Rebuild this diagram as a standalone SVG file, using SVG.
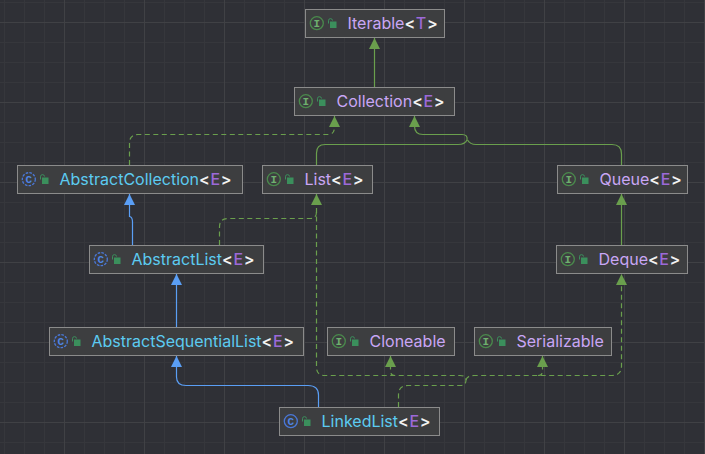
<svg xmlns="http://www.w3.org/2000/svg" width="705" height="454" viewBox="0 0 705 454">
<style>
.box{fill:#3d3e40;stroke:#8b8b8b;stroke-width:1}
.t{font-family:Inter,"Noto Sans",sans-serif;font-size:16px}
.if{fill:#c9a6f5}.cl{fill:#5ccbf1}
.g{fill:#f2f2f2;font-weight:600;letter-spacing:.6px}.e{fill:#9c69d8;font-weight:500;letter-spacing:.6px}
.c{fill:none;stroke-width:1.2}
.gn{stroke:#6a9f4d}.bl{stroke:#5a9ef5}.d{stroke-dasharray:5 3.5}
.mi{stroke:#36373c;stroke-width:1;fill:none}.ma{stroke:#404145;stroke-width:1;fill:none}
.ic{font-family:"Liberation Mono",monospace;font-size:11px;font-weight:700;text-anchor:middle}
</style>
<defs>
<marker id="ag" markerUnits="userSpaceOnUse" markerWidth="12" markerHeight="12" refX="11" refY="6" orient="auto"><path d="M0 .5L11 6L0 11.500Z" fill="#6a9f4d"/></marker>
<marker id="ab" markerUnits="userSpaceOnUse" markerWidth="12" markerHeight="12" refX="11" refY="6" orient="auto"><path d="M0 .5L11 6L0 11.500Z" fill="#5a9ef5"/></marker>
<g id="lock"><path d="M23 14v-2.700a2 2 0 0 1 4-.3" fill="none" stroke="#3b8f5c" stroke-width="1"/><rect x="24.500" y="12" width="6.500" height="6.500" fill="#3b8f5c"/></g>
<g id="iI"><circle cx="11.300" cy="13.700" r="6.500" fill="none" stroke="#4a8a4c" stroke-width="1.300"/><text class="ic" x="11.300" y="17.300" fill="#6fb06f">I</text><use href="#lock"/></g>
<g id="iC"><circle cx="11.300" cy="13.700" r="6.500" fill="none" stroke="#4a78d8" stroke-width="1.300"/><text class="ic" x="11.300" y="17.300" fill="#4f86e8">C</text><use href="#lock"/></g>
<g id="iA"><circle cx="11.300" cy="13.700" r="6.500" fill="none" stroke="#4a78d8" stroke-width="1.300" stroke-dasharray="2.600 1.200"/><text class="ic" x="11.300" y="17.300" fill="#4f86e8">C</text><use href="#lock"/></g>
</defs>
<rect width="705" height="454" fill="#2f3036"/>
<path class="mi" d="M4.500 0V454M24.500 0V454M44.500 0V454M84.500 0V454M104.500 0V454M124.500 0V454M164.500 0V454M184.500 0V454M204.500 0V454M244.500 0V454M264.500 0V454M284.500 0V454M324.500 0V454M344.500 0V454M364.500 0V454M404.500 0V454M424.500 0V454M444.500 0V454M484.500 0V454M504.500 0V454M524.500 0V454M564.500 0V454M584.500 0V454M604.500 0V454M644.500 0V454M664.500 0V454M684.500 0V454M0 2.500H705M0 42.500H705M0 62.500H705M0 82.500H705M0 122.500H705M0 142.500H705M0 162.500H705M0 202.500H705M0 222.500H705M0 242.500H705M0 282.500H705M0 302.500H705M0 322.500H705M0 362.500H705M0 382.500H705M0 402.500H705M0 442.500H705"/>
<path class="ma" d="M64.500 0V454M144.500 0V454M224.500 0V454M304.500 0V454M384.500 0V454M464.500 0V454M544.500 0V454M624.500 0V454M704.500 0V454M0 22.500H705M0 102.500H705M0 182.500H705M0 262.500H705M0 342.500H705M0 422.500H705"/>
<g id="connectors">
<path class="c gn" marker-end="url(#ag)" d="M374.500 87V38"/>
<path class="c gn d" marker-end="url(#ag)" d="M129.500 165V143Q129.500 134.500 138 134.500H328Q334.500 134.500 334.500 127V116"/>
<path class="c gn" marker-end="url(#ag)" d="M316.500 165V153Q316.500 144.500 325 144.500H458Q465 144.500 467 140Q468 134.500 462 134.500H423Q414.500 134.500 414.500 126V116"/>
<path class="c gn" d="M621.500 165V154Q621.500 144.500 612 144.500H476Q470 144.500 467.500 140"/>
<path class="c gn" marker-end="url(#ag)" d="M621.500 245V194"/>
<path class="c bl" marker-end="url(#ab)" d="M132.500 245V222Q132.500 217 129.500 216.500V194"/>
<path class="c gn d" d="M219.500 245V227Q219.500 218.500 228 218.500H310Q316.500 218.500 316.500 212"/>
<path class="c bl" marker-end="url(#ab)" d="M176.500 327V274"/>
<path class="c bl" marker-end="url(#ab)" d="M318.500 407V395Q318.500 385.500 308 385.500H186Q176.500 385.500 176.500 377V356"/>
<path class="c gn d" marker-end="url(#ag)" d="M398.500 407V395Q398.500 385.500 408 385.500H460Q466 385.500 466 380Q466 375.500 460 375.500H325Q316.500 375.500 316.500 367V194"/>
<path class="c gn d" marker-end="url(#ag)" d="M466 380Q467 375.500 474 375.500H612Q621.500 375.500 621.500 366V274"/>
<path class="c gn d" marker-end="url(#ag)" d="M395 375.500Q390.500 375.500 390.500 371V356"/>
<path class="c gn d" marker-end="url(#ag)" d="M538 375.500Q542.500 375.500 542.500 371V356"/>
</g>
<g id="iterable" transform="translate(305.500 9.500)"><rect class="box" width="139" height="28"/><use href="#iI"/><text class="t if" x="42" y="19.500">Iterable<tspan class="g">&lt;</tspan><tspan class="e">T</tspan><tspan class="g">&gt;</tspan></text></g>
<g id="collection" transform="translate(294.500 87.500)"><rect class="box" width="160" height="28"/><use href="#iI"/><text class="t if" x="42" y="19.500">Collection<tspan class="g">&lt;</tspan><tspan class="e">E</tspan><tspan class="g">&gt;</tspan></text></g>
<g id="abstractcollection" transform="translate(17.500 165.500)"><rect class="box" width="225" height="28"/><use href="#iA"/><text class="t cl" x="42" y="19.500">AbstractCollection<tspan class="g">&lt;</tspan><tspan class="e">E</tspan><tspan class="g">&gt;</tspan></text></g>
<g id="list" transform="translate(262.500 165.500)"><rect class="box" width="110" height="28"/><use href="#iI"/><text class="t if" x="42" y="19.500">List<tspan class="g">&lt;</tspan><tspan class="e">E</tspan><tspan class="g">&gt;</tspan></text></g>
<g id="queue" transform="translate(557.500 165.500)"><rect class="box" width="130" height="28"/><use href="#iI"/><text class="t if" x="42" y="19.500">Queue<tspan class="g">&lt;</tspan><tspan class="e">E</tspan><tspan class="g">&gt;</tspan></text></g>
<g id="abstractlist" transform="translate(89.500 245.500)"><rect class="box" width="174" height="28"/><use href="#iA"/><text class="t cl" x="42" y="19.500">AbstractList<tspan class="g">&lt;</tspan><tspan class="e">E</tspan><tspan class="g">&gt;</tspan></text></g>
<g id="deque" transform="translate(556.500 245.500)"><rect class="box" width="131" height="28"/><use href="#iI"/><text class="t if" x="42" y="19.500">Deque<tspan class="g">&lt;</tspan><tspan class="e">E</tspan><tspan class="g">&gt;</tspan></text></g>
<g id="abstractsequentiallist" transform="translate(49.500 327.500)"><rect class="box" width="254" height="28"/><use href="#iA"/><text class="t cl" x="42" y="19.500">AbstractSequentialList<tspan class="g">&lt;</tspan><tspan class="e">E</tspan><tspan class="g">&gt;</tspan></text></g>
<g id="cloneable" transform="translate(327.500 327.500)"><rect class="box" width="127" height="28"/><use href="#iI"/><text class="t if" x="42" y="19.500">Cloneable</text></g>
<g id="serializable" transform="translate(474.500 327.500)"><rect class="box" width="137" height="28"/><use href="#iI"/><text class="t if" x="42" y="19.500">Serializable</text></g>
<g id="linkedlist" transform="translate(279.500 407.500)"><rect class="box" width="160" height="28"/><use href="#iC"/><text class="t cl" x="42" y="19.500">LinkedList<tspan class="g">&lt;</tspan><tspan class="e">E</tspan><tspan class="g">&gt;</tspan></text></g>
</svg>
